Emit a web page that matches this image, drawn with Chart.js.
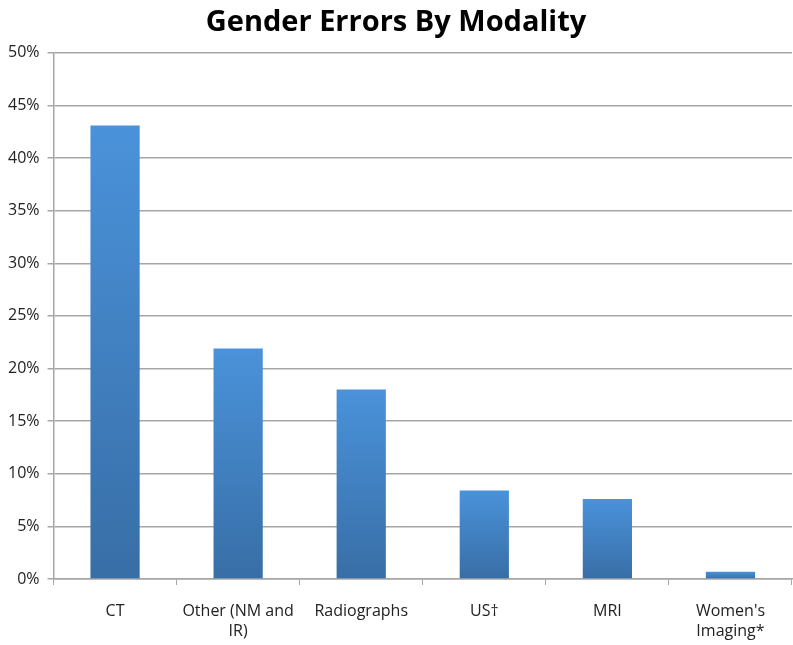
<!DOCTYPE html>
<html>
<head>
<meta charset="utf-8">
<script src="https://cdn.jsdelivr.net/npm/chart.js@4/dist/chart.umd.min.js"></script>
<style>
  html, body { margin: 0; padding: 0; background: #fff; }
  #wrap { width: 793px; height: 645px; }
</style>
</head>
<body>
<div id="wrap"><canvas id="chart" width="793" height="645"></canvas></div>
<script>
// Data
const categories = [['CT'], ['Other (NM and', 'IR)'], ['Radiographs'], ['US\u2020'], ['MRI'], ["Women's", 'Imaging*']];
const errorShare = [43.1, 21.9, 18.0, 8.4, 7.6, 0.7];
const yTicks = [0, 5, 10, 15, 20, 25, 30, 35, 40, 45, 50];

const fontFamily = "'Open Sans', 'Liberation Sans', sans-serif";

// each bar gets its own top-to-bottom gradient, like the Excel original
function barGradient(context) {
    const chart = context.chart;
    if (!chart.chartArea || context.parsed == null) return '#4287cf';
    const y = chart.scales.y;
    const top = y.getPixelForValue(context.parsed.y);
    const base = y.getPixelForValue(0);
    const g = chart.ctx.createLinearGradient(0, top, 0, base);
    g.addColorStop(0, '#4a92da');
    g.addColorStop(1, '#386ea6');
    return g;
}

new Chart(document.getElementById('chart').getContext('2d'), {
    type: 'bar',
    data: {
        labels: categories,
        datasets: [{
            label: 'Gender errors',
            data: errorShare,
            backgroundColor: barGradient,
            borderWidth: 0,
            categoryPercentage: 1.0,
            barPercentage: 0.4
        }]
    },
    options: {
        responsive: false,
        animation: false,
        layout: { padding: { left: 0, right: 1, top: 0, bottom: -12 } },
        plugins: {
            legend: { display: false },
            tooltip: { enabled: false },
            title: {
                display: true,
                text: 'Gender Errors By Modality',
                color: '#000',
                font: { family: fontFamily, size: 29, weight: 'bold' },
                padding: { top: 5, bottom: 13 }
            }
        },
        scales: {
            y: {
                min: 0,
                max: 50,
                afterBuildTicks: axis => { axis.ticks = yTicks.map(v => ({ value: v })); },
                ticks: {
                    callback: v => v + '%',
                    color: '#222',
                    font: { family: fontFamily, size: 16 },
                    padding: 8
                },
                grid: {
                    color: '#a6a6a6',
                    lineWidth: 1.5,
                    drawTicks: true,
                    tickLength: 6
                },
                border: { color: '#a6a6a6', width: 1.5 }
            },
            x: {
                ticks: {
                    color: '#222',
                    font: { family: fontFamily, size: 16, lineHeight: 1.25 },
                    padding: 16,
                    maxRotation: 0,
                    autoSkip: false
                },
                grid: {
                    display: true,
                    offset: true,
                    drawOnChartArea: false,
                    color: '#a6a6a6',
                    tickLength: 6
                },
                border: { color: '#a6a6a6', width: 1.5 }
            }
        }
    }
});
</script>
</body>
</html>
